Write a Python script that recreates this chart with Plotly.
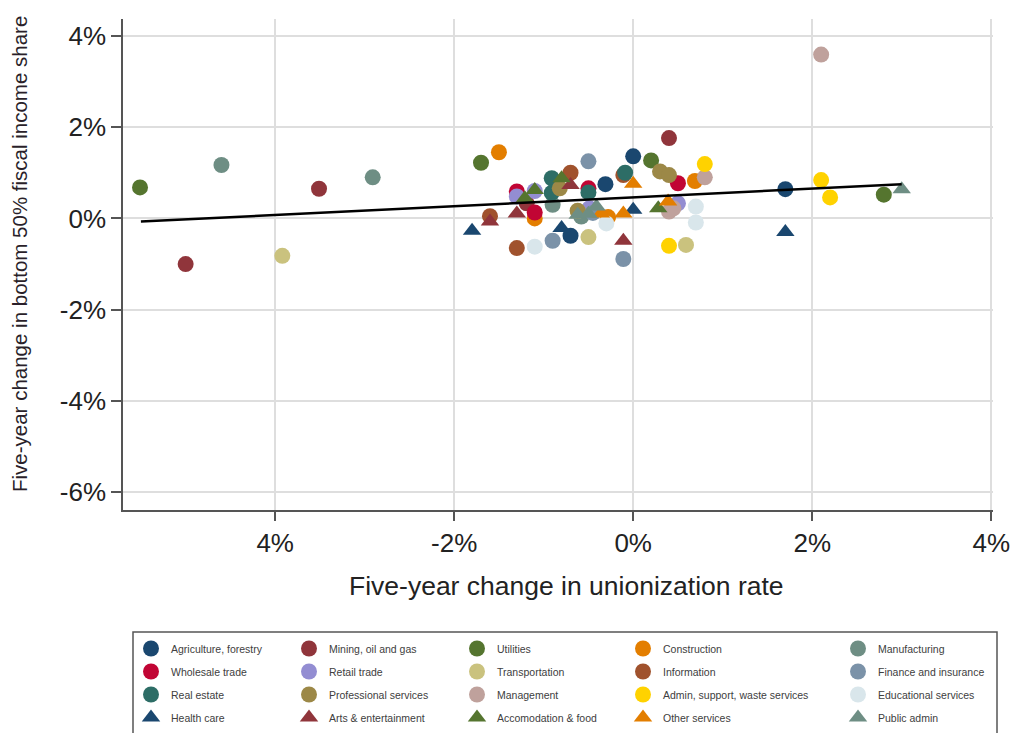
import plotly.graph_objects as go

# ---------------- data (percent) ----------------
industries = [
    "Agriculture, forestry", "Mining, oil and gas", "Utilities", "Construction", "Manufacturing",
    "Wholesale trade", "Retail trade", "Transportation", "Information", "Finance and insurance",
    "Real estate", "Professional services", "Management", "Admin, support, waste services", "Educational services",
    "Health care", "Arts & entertainment", "Accomodation & food", "Other services", "Public admin",
]

x_agri = [0.00, -0.31, -0.70, 1.70]
y_agri = [1.36, 0.75, -0.38, 0.64]
x_mining = [0.40, -5.00, -3.51, -1.19]
y_mining = [1.76, -1.00, 0.65, 0.33]
x_util = [-5.51, 2.80, -1.70, 0.20]
y_util = [0.68, 0.52, 1.22, 1.27]
x_constr = [-1.50, 0.69, -1.10, -0.28]
y_constr = [1.45, 0.82, 0.00, 0.03]
x_manuf = [-4.60, -2.91, -0.90, -0.58]
y_manuf = [1.17, 0.90, 0.30, 0.04]
x_whole = [0.50, -0.50, -1.30, -1.10]
y_whole = [0.77, 0.66, 0.59, 0.13]
x_retail = [-1.30, -1.10, 0.50, -0.49]
y_retail = [0.48, 0.60, 0.33, 0.22]
x_transp = [-3.92, -0.50, 0.59, -0.62]
y_transp = [-0.82, -0.41, -0.58, 0.16]
x_info = [-0.70, -1.60, -1.30, -0.11]
y_info = [1.00, 0.05, -0.65, 0.95]
x_fin = [-0.50, -0.90, -0.11, -0.45]
y_fin = [1.25, -0.49, -0.89, 0.12]
x_realest = [-0.09, -0.91, -0.91, -0.50]
y_realest = [1.00, 0.88, 0.56, 0.57]
x_prof = [0.30, 0.40, -0.82, -0.62]
y_prof = [1.03, 0.95, 0.66, 0.17]
x_mgmt = [2.10, 0.80, 0.40, 0.45]
y_mgmt = [3.59, 0.90, 0.15, 0.22]
x_admin = [2.10, 2.20, 0.80, 0.40]
y_admin = [0.84, 0.46, 1.19, -0.60]
x_educ = [-1.10, 0.70, 0.70, -0.30]
y_educ = [-0.62, 0.26, -0.09, -0.11]
x_health = [-1.80, -0.80, 0.00, 1.70]
y_health = [-0.27, -0.21, 0.19, -0.30]
x_arts = [-0.70, -1.30, -1.60, -0.11]
y_arts = [0.73, 0.11, -0.07, -0.49]
x_accom = [-0.80, -1.10, -1.21, 0.28]
y_accom = [0.88, 0.62, 0.44, 0.22]
x_other = [0.00, 0.39, -0.36, -0.11]
y_other = [0.76, 0.37, 0.11, 0.11]
x_public = [3.00, -0.62, -0.50, -0.41]
y_public = [0.64, 0.08, 0.10, 0.26]

fit_x = [-5.5, 3.0]
fit_y = [-0.07, 0.75]

x_tickvals = [-4, -2, 0, 2, 4]
x_ticktext = ["4%", "-2%", "0%", "2%", "4%"]
y_tickvals = [4, 2, 0, -2, -4, -6]
y_ticktext = ["4%", "2%", "0%", "-2%", "-4%", "-6%"]

xs = [x_agri, x_mining, x_util, x_constr, x_manuf, x_whole, x_retail, x_transp, x_info, x_fin,
      x_realest, x_prof, x_mgmt, x_admin, x_educ, x_health, x_arts, x_accom, x_other, x_public]
ys = [y_agri, y_mining, y_util, y_constr, y_manuf, y_whole, y_retail, y_transp, y_info, y_fin,
      y_realest, y_prof, y_mgmt, y_admin, y_educ, y_health, y_arts, y_accom, y_other, y_public]

# ---------------- style ----------------
colors = ["#1a476f", "#90353b", "#55752f", "#e37e00", "#6e8e84",
          "#c10534", "#938dd2", "#cac27e", "#a0522d", "#7b92a8",
          "#2d6d66", "#9c8847", "#bfa19c", "#ffd200", "#d9e6eb",
          "#1a476f", "#90353b", "#55752f", "#e37e00", "#6e8e84"]
symbols = ["circle"] * 15 + ["triangle-up"] * 5

W, H = 1013, 733
# target page pixel positions of plot area
P_LEFT, P_RIGHT, P_TOP, P_BOTTOM = 123, 993, 19, 510
PL = P_LEFT
PT = P_TOP
PR = W - P_RIGHT
PB = H - P_BOTTOM
pw = P_RIGHT - P_LEFT
ph = P_BOTTOM - P_TOP


def px2paper_x(px):
    return (px - P_LEFT) / pw


def px2paper_y(py):
    return (P_BOTTOM - py) / ph


FONT = "Liberation Sans, Arial, sans-serif"

fig = go.Figure()
legend_names = ["legend", "legend2", "legend3", "legend4", "legend5"]
for i, name in enumerate(industries):
    col = i % 5
    fig.add_trace(go.Scatter(
        x=xs[i], y=ys[i], mode="markers", name=name,
        marker=dict(color=colors[i], symbol=symbols[i], size=16, line=dict(width=0)),
        legend=legend_names[col], legendgroup=name,
    ))

fig.add_trace(go.Scatter(x=fit_x, y=fit_y, mode="lines", line=dict(color="black", width=2.5),
                         showlegend=False, hoverinfo="skip"))

legend_left_px = [131, 289, 457, 623, 838]
leg_common = dict(orientation="v", yanchor="top", xanchor="left", bgcolor="rgba(0,0,0,0)",
                  borderwidth=0, font=dict(family=FONT, size=10.5, color="#404040"),
                  itemsizing="trace", tracegroupgap=4, traceorder="grouped")
layout_legends = {}
for k, ln in enumerate(legend_names):
    layout_legends[ln] = dict(x=px2paper_x(legend_left_px[k]), y=px2paper_y(634), **leg_common)

fig.update_layout(
    width=W, height=H,
    margin=dict(l=PL, r=PR, t=PT, b=PB, pad=0, autoexpand=False),
    paper_bgcolor="white", plot_bgcolor="white",
    font=dict(family=FONT, color="#222222"),
    showlegend=True,
    **layout_legends,
    xaxis=dict(range=[-5.70, 4.02], tickvals=x_tickvals, ticktext=x_ticktext,
               showgrid=True, gridcolor="#dedede", gridwidth=1.5, zeroline=False,
               showline=True, linecolor="#555555", linewidth=1.5,
               ticks="outside", ticklen=9, tickcolor="#555555", tickwidth=1.5,
               tickfont=dict(size=26, family=FONT, color="#222222")),
    yaxis=dict(range=[-6.39, 4.37], tickvals=y_tickvals, ticktext=y_ticktext,
               showgrid=True, gridcolor="#dedede", gridwidth=1.5, zeroline=False,
               showline=True, linecolor="#555555", linewidth=1.5,
               ticks="outside", ticklen=10, tickcolor="#555555", tickwidth=1.5,
               tickfont=dict(size=26, family=FONT, color="#222222")),
    annotations=[
        dict(text="Five-year change in unionization rate", xref="paper", yref="paper",
             x=px2paper_x(566), y=px2paper_y(586), xanchor="center", yanchor="middle",
             showarrow=False, font=dict(size=26.5, family=FONT, color="#222222")),
        dict(text="Five-year change in bottom 50% fiscal income share", xref="paper", yref="paper",
             x=px2paper_x(19), y=px2paper_y(254), xanchor="center", yanchor="middle",
             textangle=-90, showarrow=False, font=dict(size=20.5, family=FONT, color="#2a1f2a")),
    ],
    shapes=[
        dict(type="rect", xref="paper", yref="paper",
             x0=px2paper_x(133), x1=px2paper_x(997), y0=px2paper_y(632), y1=px2paper_y(745),
             line=dict(color="#555555", width=1.5), fillcolor="rgba(0,0,0,0)", layer="above"),
    ],
)

fig.write_html(
    "out.html",
    config={"displayModeBar": False},
    post_script="document.body.style.margin='0';document.body.style.overflow='hidden';",
)
